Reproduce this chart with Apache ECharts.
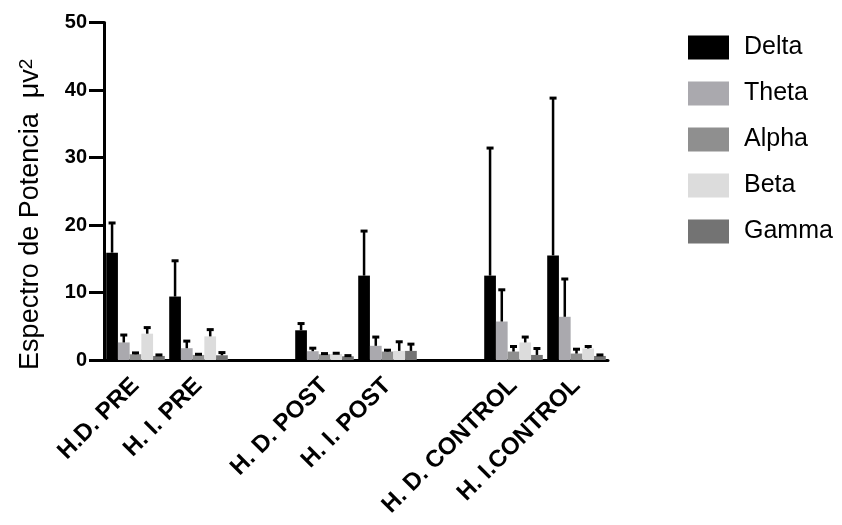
<!DOCTYPE html>
<html>
<head>
<meta charset="utf-8">
<script src="https://cdn.jsdelivr.net/npm/echarts@6/dist/echarts.min.js"></script>
<style>
  html, body { margin: 0; padding: 0; background: #fff; }
  #chart { width: 842px; height: 525px; }
</style>
</head>
<body>
<div id="chart"></div>
<script>
const categories = ['H.D. PRE', 'H. I. PRE', '', 'H. D. POST', 'H. I. POST', '', 'H. D. CONTROL', 'H. I.CONTROL'];
const seriesNames = ['Delta', 'Theta', 'Alpha', 'Beta', 'Gamma'];
const yTicks = [0, 10, 20, 30, 40, 50];

const delta    = [15.9, 9.4, null, 4.4, 12.5, null, 12.5, 15.5];
const deltaErr = [4.4, 5.3, null, 1.0, 6.6, null, 18.9, 23.3];
const theta    = [2.6, 1.75, null, 1.3, 2.1, null, 5.7, 6.4];
const thetaErr = [1.1, 1.05, null, 0.45, 1.3, null, 4.7, 5.6];
const alpha    = [0.85, 0.75, null, 0.85, 1.25, null, 1.25, 0.95];
const alphaErr = [0.2, 0.1, null, 0.1, 0.2, null, 0.75, 0.65];
const beta     = [3.9, 3.5, null, 0.9, 1.35, null, 2.6, 1.7];
const betaErr  = [0.9, 1.0, null, 0.1, 1.35, null, 0.8, 0.3];
const gamma    = [0.6, 0.7, null, 0.55, 1.35, null, 0.75, 0.6];
const gammaErr = [0.15, 0.4, null, 0.1, 1.0, null, 0.95, 0.15];

const means = [delta, theta, alpha, beta, gamma];
const errs = [deltaErr, thetaErr, alphaErr, betaErr, gammaErr];
const colors = ['#000000', '#aaa9ae', '#8f8f8f', '#dcdcdc', '#737373'];

const FONT = "'Liberation Sans', Arial, Helvetica, sans-serif";
const CAT_GAP = 0.07;
const N = seriesNames.length;

const series = [];
seriesNames.forEach((name, i) => {
  series.push({
    name: name,
    type: 'bar',
    data: means[i],
    barGap: '0%',
    barCategoryGap: (CAT_GAP * 100) + '%',
    itemStyle: { color: colors[i] },
    emphasis: { disabled: true },
    z: 2
  });
});
seriesNames.forEach((name, i) => {
  const data = [];
  means[i].forEach((v, k) => {
    if (v != null) data.push([k, v, errs[i][k]]);
  });
  series.push({
    name: name + ' err',
    type: 'custom',
    z: 5,
    silent: true,
    data: data,
    renderItem: function (params, api) {
      const idx = api.value(0);
      const m = api.value(1);
      const e = api.value(2);
      const base = api.coord([idx, m]);
      const topP = api.coord([idx, m + e]);
      const slot = api.size([1, 0])[0];
      const bw = slot * (1 - CAT_GAP) / N;
      const cx = base[0] + (i - (N - 1) / 2) * bw;
      const capHalf = 3.5;
      return {
        type: 'group',
        children: [
          { type: 'line', shape: { x1: cx, y1: base[1], x2: cx, y2: topP[1] },
            style: { stroke: '#000', lineWidth: 2.5 } },
          { type: 'line', shape: { x1: cx - capHalf, y1: topP[1], x2: cx + capHalf, y2: topP[1] },
            style: { stroke: '#000', lineWidth: 3 } }
        ]
      };
    }
  });
});

const chart = echarts.init(document.getElementById('chart'));
chart.setOption({
  animation: false,
  backgroundColor: '#ffffff',
  textStyle: { fontFamily: FONT },
  grid: { left: 104, right: 234, top: 22.5, bottom: 165, containLabel: false },
  legend: {
    data: seriesNames,
    orient: 'vertical',
    left: 683,
    top: 30,
    itemWidth: 41,
    itemHeight: 24,
    itemGap: 21,
    icon: 'rect',
    selectedMode: false,
    textStyle: { fontSize: 25, color: '#000', fontFamily: FONT, padding: [0, 0, 0, 10] }
  },
  xAxis: {
    type: 'category',
    data: categories,
    boundaryGap: true,
    axisLine: { lineStyle: { color: '#000', width: 3 } },
    axisTick: { alignWithLabel: true, length: 11, lineStyle: { color: '#000', width: 3 }, interval: 0 },
    axisLabel: { interval: 0, rotate: 45, margin: 22, color: '#000', fontWeight: 'bold', fontSize: 24, fontFamily: FONT },
    splitLine: { show: false }
  },
  yAxis: {
    type: 'value',
    min: yTicks[0],
    max: yTicks[yTicks.length - 1],
    interval: 10,
    name: 'Espectro de Potencia  μv{sup|2}',
    nameLocation: 'middle',
    nameGap: 60,
    nameTextStyle: {
      fontSize: 27, color: '#000', fontFamily: FONT, padding: [0, 46, 0, 0],
      rich: { sup: { fontSize: 19, verticalAlign: 'top', color: '#000', fontFamily: FONT } }
    },
    axisLine: { show: true, lineStyle: { color: '#000', width: 3 } },
    axisTick: { show: true, length: 15, lineStyle: { color: '#000', width: 3 } },
    axisLabel: { margin: 17, color: '#000', fontWeight: 'bold', fontSize: 20, fontFamily: FONT },
    splitLine: { show: false }
  },
  series: series
});
</script>
</body>
</html>
